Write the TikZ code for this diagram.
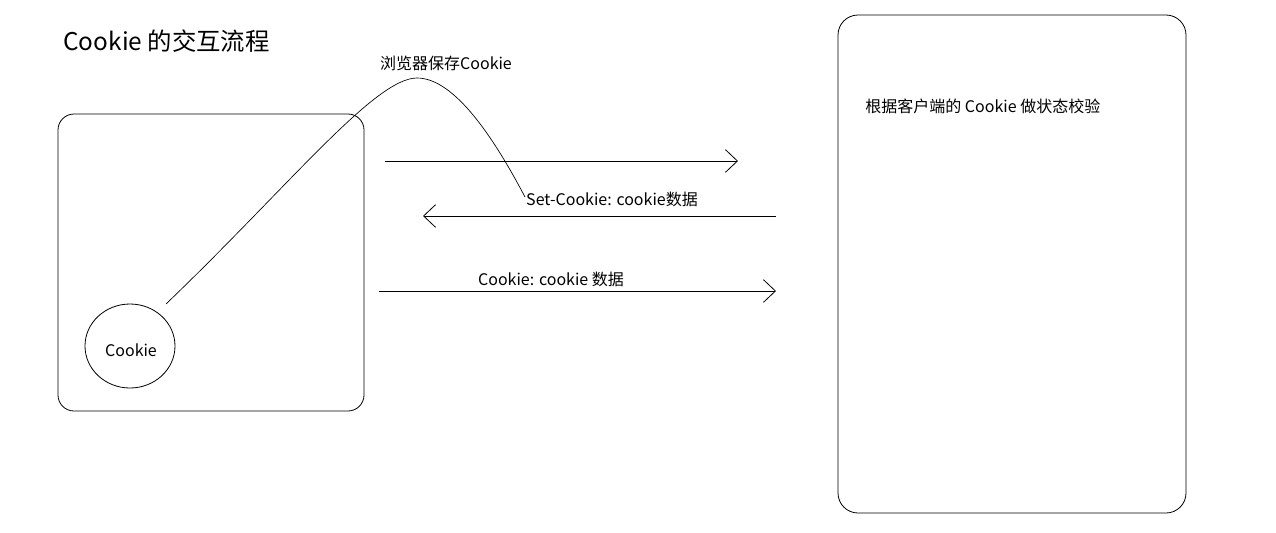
\documentclass[tikz,border=0pt]{standalone}
\usepackage{fontspec}
\setmainfont{Noto Sans CJK SC}
\usetikzlibrary{arrows.meta,shapes.geometric}
\begin{document}
\begin{tikzpicture}[x=0.75pt,y=-0.75pt,
  line width=0.6pt,
  box/.style={draw,rounded corners=12pt,inner sep=0pt},
  lbl/.style={inner sep=0pt,font=\fontsize{12pt}{14pt}\selectfont},
  msg/.style={-{Straight Barb[length=9pt,width=17pt,line width=0.6pt]}}]
\useasboundingbox (0,0) rectangle (1276,532);
\node[box,minimum width=229.5pt,minimum height=222.75pt] (client) at (211,262.5) {};
\node[box,rounded corners=15pt,minimum width=261pt,minimum height=373.5pt] (server) at (1012,264) {};
\node[draw,ellipse,inner sep=0pt,minimum width=67.5pt,minimum height=63pt] (ck) at (130,346) {};
\node[lbl] at (131,350) {Cookie};
\node[anchor=west,inner sep=0pt,font=\fontsize{18.3pt}{20pt}\selectfont] (title) at (63,41) {Cookie 的交互流程};
\node[lbl] (save) at (446,63) {浏览器保存Cookie};
\node[lbl] (setc) at (612,199) {Set-Cookie: cookie数据};
\node[lbl] (cookc) at (551,279) {Cookie: cookie 数据};
\node[lbl,anchor=west] (check) at (865,106) {根据客户端的 Cookie 做状态校验};
\coordinate (a1s) at (385,161);
\coordinate (a1e) at (738,161);
\coordinate (a2s) at (776,216);
\coordinate (a2e) at (423,216);
\coordinate (a3s) at (379,291);
\coordinate (a3e) at (776,291);
\draw[msg] (a1s) -- (a1e);
\draw[msg] (a2s) -- (a2e);
\draw[msg] (a3s) -- (a3e);
\coordinate (cs) at (166,304);
\coordinate (peak) at (417,78);
\coordinate (ce) at (525,197);
\draw[line width=0.5pt] (cs) .. controls (290,185) and (375,78) .. (peak) .. controls (455,78) and (495,140) .. (ce);
\end{tikzpicture}
\end{document}
